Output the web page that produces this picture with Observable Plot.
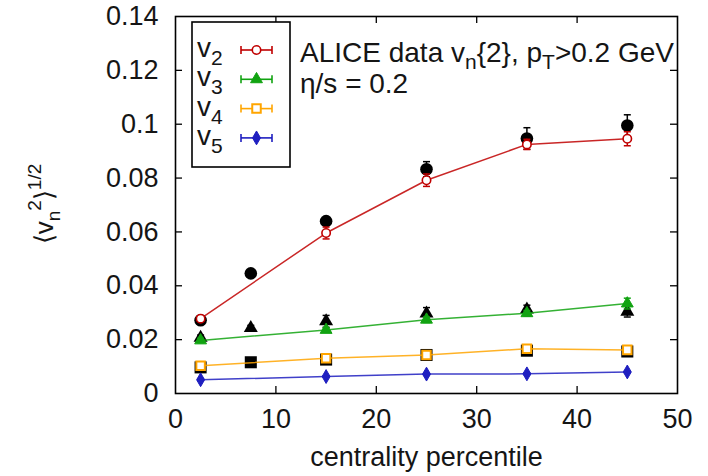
<!DOCTYPE html>
<html>
<head>
<meta charset="utf-8">
<script src="https://cdn.jsdelivr.net/npm/d3@7"></script>
<script src="https://cdn.jsdelivr.net/npm/@observablehq/plot@0.6"></script>
<style>
  html, body { margin: 0; padding: 0; background: #fff; }
  #chart svg { display: block; }
</style>
</head>
<body>
<div id="chart"></div>
<script>
// ---- data ----
const xTicks = [0, 10, 20, 30, 40, 50];
const yTicks = [0, 0.02, 0.04, 0.06, 0.08, 0.1, 0.12, 0.14];
const yTickLabels = ["0", "0.02", "0.04", "0.06", "0.08", "0.1", "0.12", "0.14"];
const innerXTicks = [10, 20, 30, 40];
const innerYTicks = [0.02, 0.04, 0.06, 0.08, 0.1, 0.12];

// ALICE data (black)
const aliceCent = [2.5, 7.5, 15, 25, 35, 45];
const aliceV2 = [0.0272, 0.0446, 0.0640, 0.0833, 0.0947, 0.0995];
const aliceV2Err = [0.0010, 0.0010, 0.0013, 0.0028, 0.0040, 0.0040];
const aliceV3 = [0.0207, 0.0243, 0.0268, 0.0297, 0.0312, 0.0304];
const aliceV3Err = [0.0010, 0.0010, 0.0022, 0.0022, 0.0016, 0.0020];
const aliceV4 = [0.0097, 0.0116, 0.0126, 0.0143, 0.0159, 0.0156];
const aliceV4Err = [0.0008, 0.0008, 0.0008, 0.0008, 0.0010, 0.0010];

// hydro model (eta/s = 0.2)
const modelCent = [2.5, 15, 25, 35, 45];
const modelV2 = [0.0278, 0.0596, 0.0792, 0.0925, 0.0946];
const modelV2Err = [0.0010, 0.0022, 0.0023, 0.0019, 0.0026];
const modelV3 = [0.0197, 0.0236, 0.0274, 0.0298, 0.0334];
const modelV3Err = [0.0008, 0.0008, 0.0010, 0.0010, 0.0020];
const modelV4 = [0.0103, 0.0131, 0.0143, 0.0166, 0.0162];
const modelV4Err = [0.0006, 0.0006, 0.0006, 0.0008, 0.0006];
const modelV5 = [0.0051, 0.0063, 0.0072, 0.0073, 0.0080];
const modelV5Err = [0.0003, 0.0003, 0.0003, 0.0003, 0.0003];

const seriesNames = ["2", "3", "4", "5"];
const seriesColors = ["#c00000", "#11a311", "#ffa500", "#1f1fc0"];

// ---- helpers ----
const rows = (xs, ys, es) => xs.map((x, i) => ({x, y: ys[i], e: es[i]}));
const capSymbol = {
  draw(ctx, size) {
    const w = Math.sqrt(size / Math.PI);
    ctx.moveTo(-w, 0); ctx.lineTo(w, 0);
  }
};

const alice2 = rows(aliceCent, aliceV2, aliceV2Err);
const alice3 = rows(aliceCent, aliceV3, aliceV3Err);
const alice4 = rows(aliceCent, aliceV4, aliceV4Err);
const model = [
  rows(modelCent, modelV2, modelV2Err),
  rows(modelCent, modelV3, modelV3Err),
  rows(modelCent, modelV4, modelV4Err),
  rows(modelCent, modelV5, modelV5Err)
];

function errMarks(data, color, capR, sw) {
  return [
    Plot.ruleX(data, {x: "x", y1: d => d.y - d.e, y2: d => d.y + d.e, stroke: color, strokeWidth: sw}),
    Plot.dot(data, {x: "x", y: d => d.y - d.e, symbol: capSymbol, r: capR, stroke: color, fill: "none", strokeWidth: sw}),
    Plot.dot(data, {x: "x", y: d => d.y + d.e, symbol: capSymbol, r: capR, stroke: color, fill: "none", strokeWidth: sw})
  ];
}

const W = 708, H = 476;
const mL = 175, mR = 31, mT = 16, mB = 83;
const plotW = W - mL - mR, plotH = H - mT - mB;
const FONT = "'Liberation Sans', Arial, Helvetica, sans-serif";
const TEXT = "#151515";

const markerSpecs = [
  {symbol: "circle", r: 4.2, fill: "white", strokeWidth: 1.6},
  {symbol: "triangle", r: 4.4, fill: seriesColors[1], strokeWidth: 1},
  {symbol: "square", r: 4.8, fill: "white", strokeWidth: 2},
  {symbol: "diamond", r: 4.2, fill: seriesColors[3], strokeWidth: 1}
];

const marks = [];
// ALICE data in black (drawn first)
marks.push(...errMarks(alice2, "black", 3.5, 1.5));
marks.push(...errMarks(alice3, "black", 3.5, 1.5));
marks.push(...errMarks(alice4, "black", 3.5, 1.5));
marks.push(Plot.dot(alice2, {x: "x", y: "y", symbol: "circle", r: 6.3, fill: "black"}));
marks.push(Plot.dot(alice3, {x: "x", y: "y", symbol: "triangle", r: 5.2, fill: "black"}));
marks.push(Plot.dot(alice4, {x: "x", y: "y", symbol: "square", r: 6.8, fill: "black"}));
// model
model.forEach((d, k) => {
  const c = seriesColors[k];
  marks.push(Plot.line(d, {x: "x", y: "y", stroke: c, strokeWidth: 1.5, strokeOpacity: 0.85}));
  marks.push(...errMarks(d, c, 3.5, 1.5));
  const s = markerSpecs[k];
  marks.push(Plot.dot(d, {x: "x", y: "y", symbol: s.symbol, r: s.r, fill: s.fill, stroke: c, strokeWidth: s.strokeWidth}));
});
// inward ticks
marks.push(Plot.tickX(innerXTicks, {x: d => d, insetTop: plotH - 7, stroke: "black", strokeWidth: 1.3}));
marks.push(Plot.tickX(innerXTicks, {x: d => d, insetBottom: plotH - 7, stroke: "black", strokeWidth: 1.3}));
marks.push(Plot.tickY(innerYTicks, {y: d => d, insetRight: plotW - 7, stroke: "black", strokeWidth: 1.3}));
marks.push(Plot.tickY(innerYTicks, {y: d => d, insetLeft: plotW - 7, stroke: "black", strokeWidth: 1.3}));
marks.push(Plot.frame({stroke: "black", strokeWidth: 1.6}));
// axes labels
marks.push(Plot.axisX(xTicks, {tickSize: 0, tickPadding: 15, fontSize: 27, label: null}));
marks.push(Plot.axisY(yTicks, {tickSize: 0, tickPadding: 17, fontSize: 27, label: null,
  tickFormat: d => yTickLabels[yTicks.indexOf(d)]}));
marks.push(Plot.text(["centrality percentile"], {frameAnchor: "bottom", dy: 72, lineAnchor: "bottom", fontSize: 27, text: d => d}));

const chart = Plot.plot({
  width: W, height: H,
  marginLeft: mL, marginRight: mR, marginTop: mT, marginBottom: mB,
  x: {domain: [0, 50]},
  y: {domain: [0, 0.14]},
  style: {fontFamily: FONT, fontSize: "27px", color: TEXT, background: "white", overflow: "visible"},
  marks
});
document.getElementById("chart").appendChild(chart);

// ---- annotations: legend, header, y label ----
const svg = d3.select(chart);
const g = svg.append("g").attr("font-family", FONT).attr("fill", TEXT).attr("text-anchor", "start");

// legend box
g.append("rect").attr("x", 192).attr("y", 22).attr("width", 98).attr("height", 145)
  .attr("fill", "white").attr("stroke", "black").attr("stroke-width", 1.6);

seriesNames.forEach((n, k) => {
  const base = 57 + k * 29.3;
  const t = g.append("text").attr("x", 197).attr("y", base).attr("font-size", 28);
  t.append("tspan").text("v");
  t.append("tspan").attr("dy", 8).attr("font-size", 21).text(n);
  const cy = base - 7;
  const c = seriesColors[k];
  const s = markerSpecs[k];
  g.append("line").attr("x1", 241).attr("x2", 272).attr("y1", cy).attr("y2", cy).attr("stroke", c).attr("stroke-width", 1.6);
  g.append("line").attr("x1", 241).attr("x2", 241).attr("y1", cy - 4).attr("y2", cy + 4).attr("stroke", c).attr("stroke-width", 1.6);
  g.append("line").attr("x1", 272).attr("x2", 272).attr("y1", cy - 4).attr("y2", cy + 4).attr("stroke", c).attr("stroke-width", 1.6);
  const symType = {circle: d3.symbolCircle, triangle: d3.symbolTriangle, square: d3.symbolSquare, diamond: d3.symbolDiamond}[s.symbol];
  g.append("path").attr("transform", `translate(256.5,${cy})`)
    .attr("d", d3.symbol(symType, Math.PI * s.r * s.r)())
    .attr("fill", s.fill).attr("stroke", c).attr("stroke-width", s.strokeWidth);
});

// header text
const h1 = g.append("text").attr("x", 300).attr("y", 62).attr("font-size", 28);
h1.append("tspan").text("ALICE data v");
h1.append("tspan").attr("dy", 7).attr("font-size", 21).text("n");
h1.append("tspan").attr("dy", -7).text("{2}, p");
h1.append("tspan").attr("dy", 7).attr("font-size", 21).text("T");
h1.append("tspan").attr("dy", -7).text(">0.2 GeV");
g.append("text").attr("x", 300).attr("y", 93).attr("font-size", 28).text("η/s = 0.2");

// y-axis label
const yl = g.append("text").attr("transform", "translate(53,204) rotate(-90)")
  .attr("text-anchor", "middle").attr("font-size", 26);
yl.append("tspan").text("⟨v");
yl.append("tspan").attr("dy", 7).attr("font-size", 19).text("n");
yl.append("tspan").attr("dy", -19).attr("font-size", 19).text("2");
yl.append("tspan").attr("dy", 12).text("⟩");
yl.append("tspan").attr("dy", -12).attr("font-size", 19).text("1/2");
</script>
</body>
</html>
